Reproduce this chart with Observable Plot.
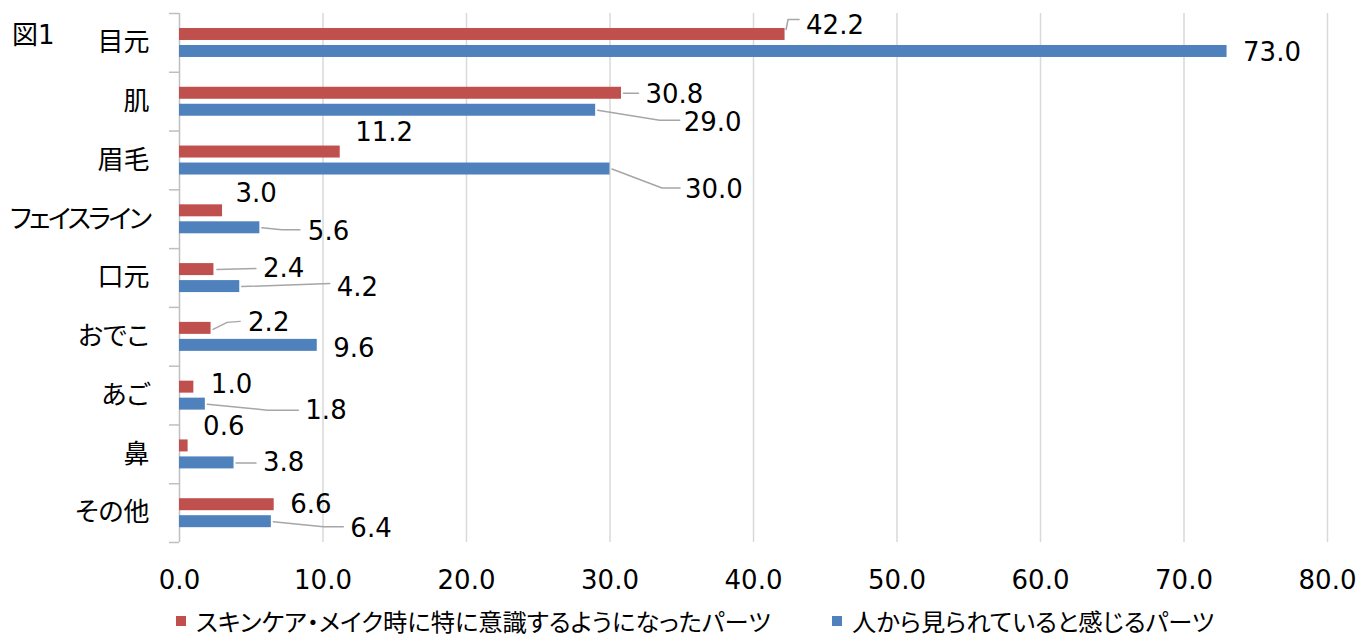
<!DOCTYPE html>
<html>
<head>
<meta charset="utf-8">
<script src="https://cdn.jsdelivr.net/npm/d3@7"></script>
<script src="https://cdn.jsdelivr.net/npm/@observablehq/plot@0.6"></script>
<style>
  html, body { margin: 0; padding: 0; background: #fff; }
  body { width: 1360px; height: 635px; position: relative; overflow: hidden;
         font-family: "Noto Sans CJK JP", "Noto Sans", sans-serif; color: #000; }
  #chart svg text { font-feature-settings: "palt"; }
  #fig { position: absolute; left: 12px; top: 14px; font-size: 26px; font-family: "DejaVu Sans", "Noto Sans CJK JP", sans-serif; }
  #legend { position: absolute; left: 0; top: 606px; height: 29px; width: 1360px; font-size: 24.3px; line-height: 1.1; font-feature-settings: "palt"; }
  .item { position: absolute; top: 0; display: flex; align-items: center; height: 30px; }
  .sw { width: 10px; height: 10px; margin-right: 10px; }
</style>
</head>
<body>
<div id="chart"></div>
<div id="fig">図1</div>
<div id="legend"></div>
<script>
// ---- data ----
const categories = ["目元", "肌", "眉毛", "フェイスライン", "口元", "おでこ", "あご", "鼻", "その他"];
const seriesNames = ["スキンケア・メイク時に特に意識するようになったパーツ", "人から見られていると感じるパーツ"];
const skincareValues = [42.2, 30.8, 11.2, 3.0, 2.4, 2.2, 1.0, 0.6, 6.6];
const seenValues = [73.0, 29.0, 30.0, 5.6, 4.2, 9.6, 1.8, 3.8, 6.4];
const xTicks = [0, 10, 20, 30, 40, 50, 60, 70, 80];

// ---- label placement (pixel nudges from bar end, leader polyline in pixels) ----
const skincareLabelNudge = [
  {dx: 21, dy: -9, leader: [[1, -5], [3, -15], [14, -15]]},
  {dx: 24, dy: 1, leader: [[2, 0], [17, 0]]},
  {dx: 15, dy: -19, leader: null},
  {dx: 13, dy: -17, leader: null},
  {dx: 49, dy: -1, leader: [[3, 0], [42, -1]]},
  {dx: 37, dy: -6, leader: [[2, 1], [16, -6], [29, -7]]},
  {dx: 17, dy: -2, leader: null},
  {dx: 15, dy: -19, leader: null},
  {dx: 16, dy: 0, leader: null}
];
const seenLabelNudge = [
  {dx: 16, dy: 1, leader: null},
  {dx: 88, dy: 12, leader: [[2, 0], [64, 10], [84, 10]]},
  {dx: 75, dy: 21, leader: [[2, 0], [52, 19], [70, 19]]},
  {dx: 48, dy: 4, leader: [[2, 0], [22, 2], [40, 2]]},
  {dx: 97, dy: 1, leader: [[2, 0], [90, -3]]},
  {dx: 16, dy: 3, leader: null},
  {dx: 100, dy: 7, leader: [[2, 0], [62, 6], [93, 6]]},
  {dx: 29, dy: 0, leader: [[2, 0], [22, 0]]},
  {dx: 79, dy: 7, leader: [[2, 0], [52, 5], [72, 5]]}
];

const colors = ["#C0504D", "#4F81BD"];
const numFont = '"DejaVu Sans", "Noto Sans CJK JP", sans-serif';

const W = 1360, H = 600;
const mL = 179, mR = 33, mT = 13, mB = 58;
const kx = (W - mL - mR) / (xTicks[xTicks.length - 1] - xTicks[0]); // px per x unit
const ky = (H - mT - mB) / categories.length;                        // px per category band

// bar placement within each band (band units, band centre at index)
const barOff = [[-0.245, -0.041], [0.044, 0.248]];

const rows = [];
const labels = [];
const leaders = [];
[skincareValues, seenValues].forEach((vals, s) => {
  const nudges = s === 0 ? skincareLabelNudge : seenLabelNudge;
  vals.forEach((v, i) => {
    const y1 = i + barOff[s][0], y2 = i + barOff[s][1], yc = (y1 + y2) / 2;
    rows.push({s, i, value: v, y1, y2});
    const n = nudges[i];
    labels.push({s, value: v, x: v + n.dx / kx, y: yc + n.dy / ky});
    if (n.leader) {
      const key = s + "-" + i;
      n.leader.forEach(([px, py]) => leaders.push({key, x: v + px / kx, y: yc + py / ky}));
    }
  });
});

const boundaries = d3.range(categories.length + 1).map(k => k - 0.5);

const chart = Plot.plot({
  width: W, height: H,
  marginLeft: mL, marginRight: mR, marginTop: mT, marginBottom: mB,
  style: {fontFamily: '"Noto Sans CJK JP", "Noto Sans", sans-serif', color: "#000", background: "#fff", overflow: "visible"},
  x: {domain: [xTicks[0], xTicks[xTicks.length - 1]]},
  y: {domain: [categories.length - 0.5, -0.5]},
  marks: [
    Plot.ruleX(xTicks.slice(1), {stroke: "#d9d9d9", strokeWidth: 1.5, y1: -0.5, y2: categories.length - 0.5}),
    Plot.ruleY(boundaries, {x1: -0.7, x2: 0, stroke: "#bfbfbf", strokeWidth: 1.5}),
    Plot.ruleX([0], {stroke: "#bfbfbf", strokeWidth: 1.5, y1: -0.5, y2: categories.length - 0.5}),
    Plot.rectX(rows, {x1: 0, x2: "value", y1: "y1", y2: "y2", fill: d => colors[d.s]}),
    Plot.line(leaders, {x: "x", y: "y", z: "key", stroke: "#a6a6a6", strokeWidth: 1.5}),
    Plot.text(labels, {x: "x", y: "y", text: d => d.value.toFixed(1), textAnchor: "start", fontSize: 26, fontFamily: numFont, fill: "#000"}),
    Plot.axisX(xTicks, {tickFormat: d => d.toFixed(1), tickSize: 0, tickPadding: 28, fontSize: 26, fontFamily: numFont, label: null}),
    Plot.axisY(d3.range(categories.length), {tickFormat: i => categories[i], tickSize: 0, tickPadding: 30, fontSize: 26, label: null})
  ]
});
document.getElementById("chart").appendChild(chart);

// narrow the long katakana label so it fits like the reference
chart.querySelectorAll("text").forEach(t => {
  if (t.textContent === "フェイスライン") t.style.letterSpacing = "-2.5px";
});

// legend
const lg = document.getElementById("legend");
const lgLeft = [176, 832];
seriesNames.forEach((name, s) => {
  const it = document.createElement("div");
  it.className = "item";
  it.style.left = lgLeft[s] + "px";
  it.innerHTML = `<span class="sw" style="background:${colors[s]}"></span><span>${name}</span>`;
  lg.appendChild(it);
});
</script>
</body>
</html>
